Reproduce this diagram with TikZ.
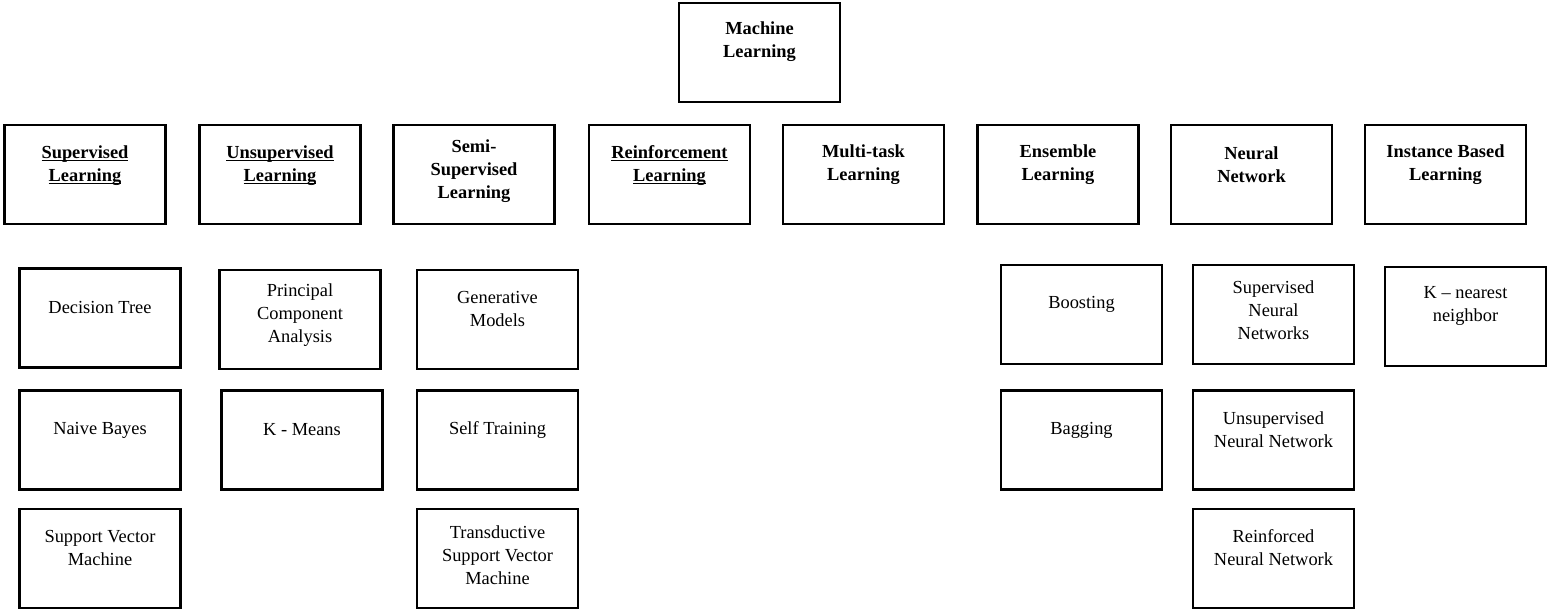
\documentclass[tikz,border=0pt]{standalone}
\usepackage{fontspec}
\setmainfont{Liberation Serif}
\newcommand\mlul[1]{\setbox0=\hbox{#1}\rlap{\rule[-1.4pt]{\wd0}{0.7pt}}\box0}
\tikzset{
  mlbox/.style={draw=black, line width=1.15pt, minimum width=80.5pt, minimum height=49.5pt, inner sep=0pt},
  mltxt/.style={align=center, inner sep=0pt, font=\fontsize{9.2pt}{11.5pt}\selectfont},
  mlhead/.style={mltxt, font=\fontsize{9.2pt}{11.5pt}\selectfont\bfseries}
}
\newcommand\mlnode[6]{% style, name, x, y, shift(pt), text
  \node[mlbox] (#2) at (#3,#4) {};
  \node[#1, yshift=#5] (#2t) at (#2.center) {#6};
}
\begin{document}
\begin{tikzpicture}[x=0.5pt, y=-0.5pt]
\useasboundingbox (0,0) rectangle (1549,610);
% root
\mlnode{mlhead}{ml}{759.5}{52.5}{5.5pt}{Machine\\Learning}
% row 1
\mlnode{mlhead}{sup}{85}{174.5}{4.6pt}{\mlul{Supervised}\\\mlul{Learning}}
\mlnode{mlhead}{uns}{280}{174.5}{4.6pt}{\mlul{Unsupervised}\\\mlul{Learning}}
\mlnode{mlhead}{semi}{474}{174.5}{1.8pt}{Semi-\\Supervised\\Learning}
\mlnode{mlhead}{rein}{669.5}{174.5}{4.6pt}{\mlul{Reinforcement}\\\mlul{Learning}}
\mlnode{mlhead}{multi}{863.5}{174.5}{5pt}{Multi-task\\Learning}
\mlnode{mlhead}{ens}{1058}{174.5}{5pt}{Ensemble\\Learning}
\mlnode{mlhead}{nn}{1251.5}{174.5}{5pt}{Neural\\Network}
\mlnode{mlhead}{inst}{1445.5}{174.5}{5pt}{Instance Based\\Learning}
% supervised
\mlnode{mltxt}{dt}{100}{318}{5.5pt}{Decision Tree}
\mlnode{mltxt}{nb}{100}{440}{5pt}{Naive Bayes}
\mlnode{mltxt}{svm}{100}{558.5}{5.2pt}{Support Vector\\Machine}
% unsupervised
\mlnode{mltxt}{pca}{300}{319.5}{2.2pt}{Principal\\Component\\Analysis}
\mlnode{mltxt}{km}{302}{440}{5pt}{K - Means}
% semi-supervised
\mlnode{mltxt}{gm}{497.5}{319.5}{5.2pt}{Generative\\Models}
\mlnode{mltxt}{st}{497.5}{440}{5pt}{Self Training}
\mlnode{mltxt}{tsvm}{497.5}{558.5}{1.8pt}{Transductive\\Support Vector\\Machine}
% ensemble
\mlnode{mltxt}{boost}{1081.5}{314.5}{5.2pt}{Boosting}
\mlnode{mltxt}{bag}{1081.5}{440}{5pt}{Bagging}
% neural network
\mlnode{mltxt}{snn}{1273.5}{314.5}{2.2pt}{Supervised\\Neural\\Networks}
\mlnode{mltxt}{unn}{1273.5}{440}{5.2pt}{Unsupervised\\Neural Network}
\mlnode{mltxt}{rnn}{1273.5}{558.5}{5.5pt}{Reinforced\\Neural Network}
% instance based
\mlnode{mltxt}{knn}{1465.5}{316.5}{5.5pt}{K -- nearest\\neighbor}
\end{tikzpicture}
\end{document}
